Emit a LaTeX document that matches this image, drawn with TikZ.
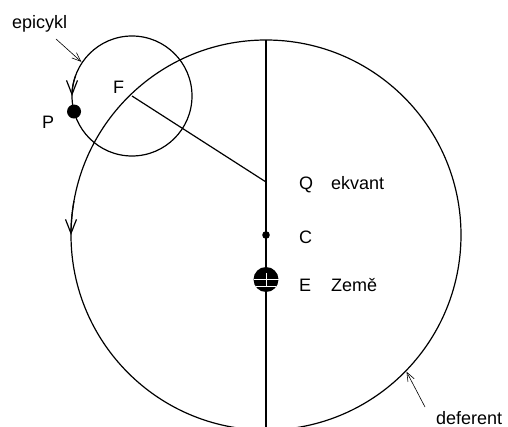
\documentclass[tikz,border=0pt]{standalone}
\usepackage{fontspec}
\setmainfont{Liberation Sans}
\usetikzlibrary{positioning,calc,arrows.meta}
\tikzset{ORBIT/.style={line width=1.2pt}}
\tikzset{DIR/.style={line width=1.2pt, -{Straight Barb[length=14pt, width=11pt, line width=1.2pt]}}}
\tikzset{POINTER/.style={line width=0.6pt, -{Straight Barb[length=9pt, width=7pt, line width=0.6pt]}}}
\tikzset{LABEL/.style={font=\fontsize{18}{20}\selectfont, inner sep=0pt, anchor=base west}}

\begin{document}
\begin{tikzpicture}[x=1pt, y=-1pt]
    \useasboundingbox (0,0) rectangle (508,427);
    \clip (0,0) rectangle (508,427);

    \coordinate (n_center) at (266,235);
    \coordinate (n_eq) at (266,182);
    \coordinate (n_earth) at (266,279.5);
    \coordinate (n_epi) at (132,96);
    \coordinate (n_planet) at ($(n_epi)+(165:60)$);
    \coordinate (axis_top) at ($(n_center)+(0,-195)$);
    \coordinate (axis_bot) at (266,427);

    % deferent and epicycle
    \draw[ORBIT] (n_center) circle[radius=195];
    \draw[ORBIT] (n_epi) circle[radius=60];
    \draw[DIR] ($(n_center)+(190:195)$) arc[start angle=190, end angle=180, radius=195];
    \draw[DIR] ($(n_epi)+(200:60)$) arc[start angle=200, end angle=180, radius=60];

    \draw[ORBIT, line width=1.4pt] (axis_top) -- (axis_bot);
    \draw[ORBIT] (n_epi) -- (n_eq);

    \fill (n_center) circle[radius=3.8];
    \fill (n_planet) circle[radius=7];
    \fill (n_earth) circle[radius=12.5];
    \draw[white, line width=0.4pt] ($(n_earth)+(-12.5,0)$) -- ($(n_earth)+(12.5,0)$);
    \draw[white, line width=0.4pt] ($(n_earth)+(-10.4,7)$) -- ($(n_earth)+(10.4,7)$);
    \draw[white, line width=0.3pt] ($(n_earth)+(0,-6)$) -- ($(n_earth)+(0,7.5)$);

    \node[LABEL] (l_F) at (113,94) {F};
    \node[LABEL] (l_P) at (42,129) {P};
    \node[LABEL] (l_Q) at (299,190) {Q};
    \node[LABEL] (l_C) at (299,244) {C};
    \node[LABEL] (l_E) at (299,291) {E};
    \node[LABEL] (l_ekv) at (331,190) {ekvant};
    \node[LABEL] (l_zeme) at (331,291) {Země};
    \node[LABEL] (l_epi) at (12,29) {epicykl};
    \node[LABEL] (l_def) at (436,424) {deferent};

    \coordinate (epi_tail) at (56,39);
    \coordinate (epi_head) at ($(n_epi)+(214:61)$);
    \draw[POINTER] (epi_tail) -- (epi_head);
    \coordinate (def_tail) at (425,407);
    \coordinate (def_head) at ($(n_center)+(44.2:196)$);
    \draw[POINTER] (def_tail) -- (def_head);
\end{tikzpicture}
\end{document}
